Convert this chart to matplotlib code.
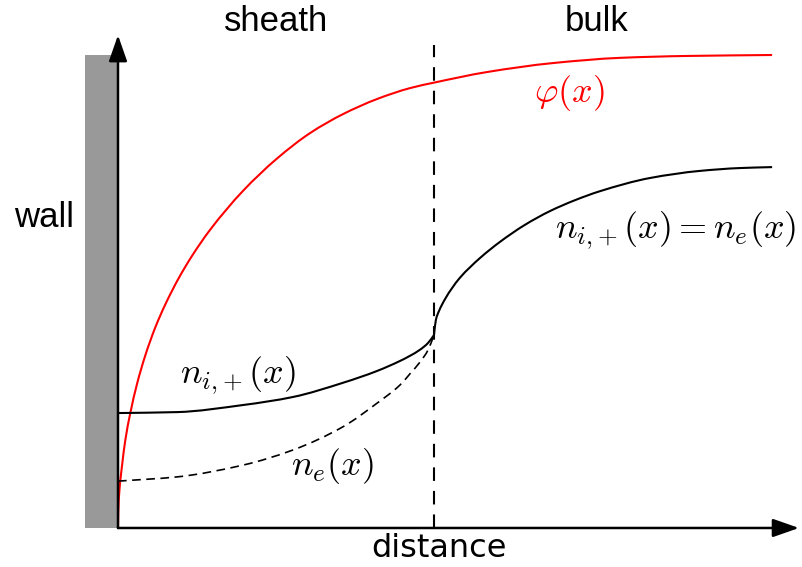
import numpy as np
import matplotlib.pyplot as plt
from matplotlib.patches import Rectangle, PathPatch
from matplotlib.path import Path

plt.rcParams['mathtext.fontset'] = 'cm'

# distance from the wall, sheath edge at x = 1 ; potential normalised to 1
x_phi = [0.000, 0.001, 0.004, 0.013, 0.023, 0.039, 0.060, 0.086, 0.118, 0.150,
         0.192, 0.234, 0.291, 0.396, 0.503, 0.608, 0.712, 0.820, 0.924, 1.003,
         1.168, 1.377, 1.589, 1.801, 2.070]
phi = [0.000, 0.035, 0.075, 0.133, 0.185, 0.243, 0.304, 0.364, 0.424, 0.473,
       0.528, 0.575, 0.630, 0.713, 0.781, 0.835, 0.875, 0.907, 0.930, 0.942,
       0.964, 0.983, 0.994, 0.998, 1.000]

# densities inside the sheath
x_sheath = [0.000, 0.187, 0.396, 0.554, 0.712, 0.820, 0.892, 0.924, 0.956, 0.981, 1.000]
n_ion_sheath = [0.243, 0.245, 0.260, 0.277, 0.307, 0.332, 0.353, 0.364, 0.377, 0.391, 0.408]
n_el_sheath = [0.099, 0.108, 0.133, 0.165, 0.214, 0.264, 0.302, 0.326, 0.351, 0.376, 0.408]

# quasi-neutral bulk, n_i = n_e
x_bulk = [1.000, 1.006, 1.016, 1.035, 1.057, 1.082, 1.146, 1.209, 1.288, 1.367,
          1.446, 1.525, 1.684, 1.842, 1.968, 2.070]
n_bulk = [0.408, 0.440, 0.459, 0.484, 0.507, 0.529, 0.571, 0.605, 0.641, 0.670,
          0.693, 0.712, 0.740, 0.755, 0.761, 0.763]

sheath_edge = 1.0
wall_width = 0.104
x_end = 2.155   # tip of distance arrow
y_end = 1.042   # tip of vertical arrow


def smooth_path(x, y):
    # monotone cubic (Fritsch-Carlson) through the points, as bezier segments
    x = np.asarray(x, float)
    y = np.asarray(y, float)
    h = np.diff(x)
    d = np.diff(y) / h
    m = np.empty_like(x)
    m[0], m[-1] = d[0], d[-1]
    for k in range(1, len(x) - 1):
        if d[k - 1] * d[k] <= 0:
            m[k] = 0.0
        else:
            w1 = 2 * h[k] + h[k - 1]
            w2 = h[k] + 2 * h[k - 1]
            m[k] = (w1 + w2) / (w1 / d[k - 1] + w2 / d[k])
    verts = [(x[0], y[0])]
    codes = [Path.MOVETO]
    for k in range(len(h)):
        verts += [(x[k] + h[k] / 3, y[k] + m[k] * h[k] / 3),
                  (x[k + 1] - h[k] / 3, y[k + 1] - m[k + 1] * h[k] / 3),
                  (x[k + 1], y[k + 1])]
        codes += [Path.CURVE4] * 3
    return Path(verts, codes)


def draw_curve(ax, x, y, **kw):
    ax.add_patch(PathPatch(smooth_path(x, y), fill=False, capstyle='butt', **kw))


fig = plt.figure(figsize=(8.02, 5.67), dpi=100)
ax = fig.add_axes([0, 0, 1, 1])
ax.set_xlim(-0.3734, 2.1646)
ax.set_ylim(-0.0825, 1.1163)
ax.axis('off')

# wall
ax.add_patch(Rectangle((-wall_width, 0), wall_width, max(phi), color='#999999', lw=0, zorder=1))

# sheath / bulk boundary
ax.plot([sheath_edge, sheath_edge], [0, 1.021], color='k', lw=1.5,
        linestyle=(0, (6.5, 4.8)), zorder=2)

# curves
draw_curve(ax, x_phi, phi, edgecolor='red', lw=1.5, zorder=3)
draw_curve(ax, x_sheath, n_ion_sheath, edgecolor='k', lw=1.5, zorder=3)
draw_curve(ax, x_sheath, n_el_sheath, edgecolor='k', lw=1.2,
           linestyle=(0, (5.2, 3.3)), zorder=3)
draw_curve(ax, x_bulk, n_bulk, edgecolor='k', lw=1.5, zorder=3)

# axes arrows
arrow = dict(arrowstyle='-|>,head_length=0.8,head_width=0.28', mutation_scale=20,
             lw=1.8, color='k', shrinkA=0, shrinkB=0)
ax.annotate('', xy=(0, y_end), xytext=(0, 0), arrowprops=arrow, zorder=4)
ax.annotate('', xy=(x_end, 0), xytext=(0, 0), arrowprops=arrow, zorder=4)

# labels
sans = ['Liberation Sans', 'DejaVu Sans']
ax.text(0.5, 1.070, 'sheath', family=sans, fontsize=25, ha='center', va='center')
ax.text(1.513, 1.070, 'bulk', family=sans, fontsize=25, ha='center', va='center')
ax.text(-0.234, 0.657, 'wall', family=sans, fontsize=25, ha='center', va='center')
ax.text(1.016, -0.044, 'distance', family='DejaVu Sans', fontsize=23, ha='center', va='center')

ax.text(1.430, 0.920, r'$\varphi(x)$', color='red', fontsize=26, ha='center', va='center')
ax.text(1.763, 0.630, r'$n_{i,\!+}(x) = n_e(x)$', fontsize=26, ha='center', va='center')
ax.text(0.380, 0.323, r'$n_{i,\!+}(x)$', fontsize=26, ha='center', va='center')
ax.text(0.680, 0.131, r'$n_e(x)$', fontsize=26, ha='center', va='center')

fig.savefig('out.png', dpi=100)
